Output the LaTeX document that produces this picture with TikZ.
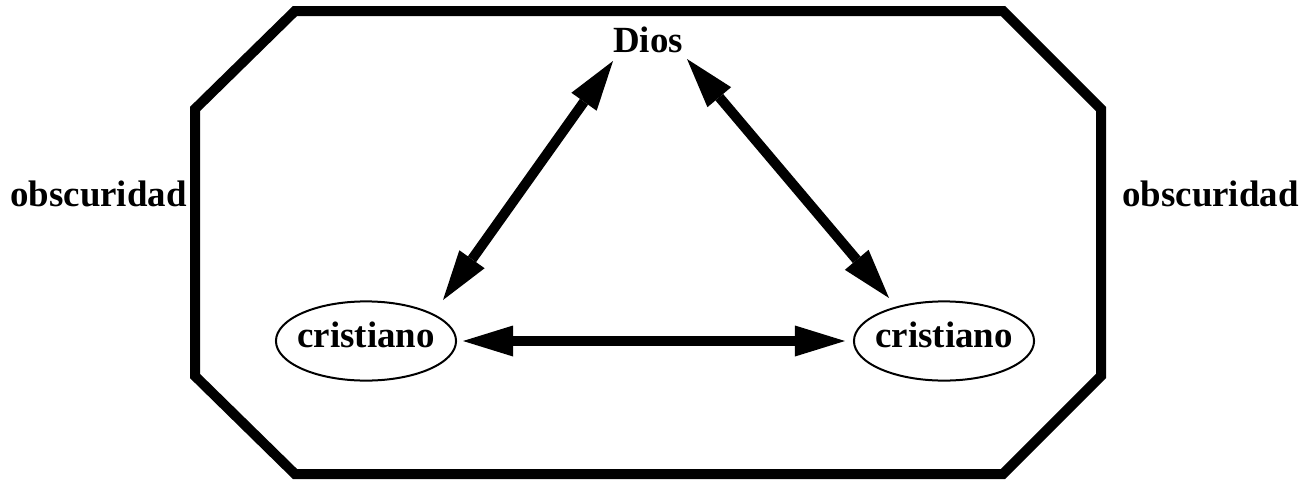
\documentclass[tikz,border=0pt]{standalone}
\usepackage{fontspec}
\setmainfont{Liberation Serif}
\usetikzlibrary{arrows.meta,shapes.geometric}

\begin{document}
\begin{tikzpicture}[>={Triangle[length=1cm,width=0.62cm,line width=0pt]},
  every node/.style={font=\fontsize{21}{25}\selectfont\bfseries},
  soul/.style={ellipse, draw, line width=0.04cm, minimum width=3.52cm, minimum height=1.58cm,
    inner xsep=-0.1cm, inner ysep=0.19cm, text height=0.5cm, text depth=0.24cm},
  link/.style={draw, line width=0.2cm}]
\useasboundingbox (0,0) rectangle (26.3,9.6);
% the world
\draw[line width=0.2cm, line join=miter] (5.9,9.38) -- (20.06,9.38) -- (22.02,7.42)
  -- (22.02,2.08) -- (20.06,0.12) -- (5.9,0.12) -- (3.9,2.08) -- (3.9,7.42) -- cycle;
%
\draw (1.97,5.72) node (obsL) {obscuridad};
\draw (24.21,5.72) node (obsR) {obscuridad};
%
\draw (12.96,8.8) node (dios) {Dios};
\draw (7.32,2.78) node[soul] (crisL) {cristiano};
\draw (18.88,2.78) node[soul] (crisR) {cristiano};
%
\path[link, <->] ([shift={(1.54,0.82)}]crisL.center) -- ([shift={(-0.7,-0.42)}]dios.center);
\path[link, <->] ([shift={(0.78,-0.38)}]dios.center) -- ([shift={(-1.1,0.86)}]crisR.center);
\path[link, <->, shorten <=0.12cm, shorten >=0.16cm] (crisL.east) -- (crisR.west);
\end{tikzpicture}
\end{document}
